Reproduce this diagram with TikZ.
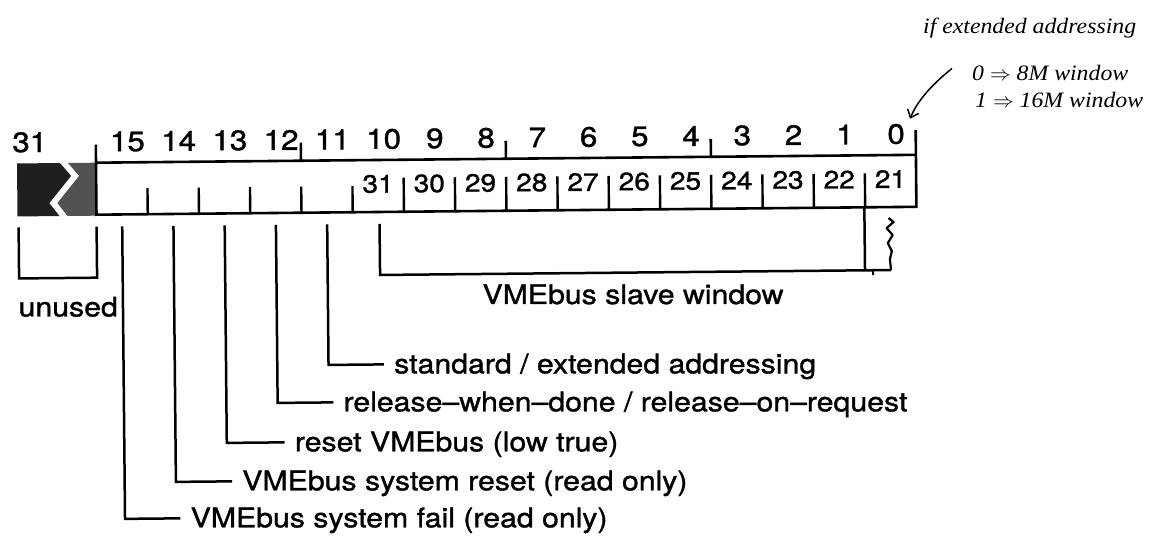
\documentclass[tikz,border=0pt]{standalone}
\usepackage{fontspec}
\setmainfont{TeX Gyre Heros}[FakeStretch=1.12,FakeBold=1.2]
\newfontfamily\handfont{Liberation Serif}[FakeStretch=1.08]
\usetikzlibrary{arrows.meta}
\begin{document}
\begin{tikzpicture}[x=1pt,y=-1pt,
  reg/.style={line width=2.6pt},
  ln/.style={line width=2.5pt},
  tick/.style={line width=2.4pt},
  big/.style={font=\fontsize{28}{30}\selectfont, inner sep=0pt},
  small/.style={font=\fontsize{25}{28}\selectfont, inner sep=0pt},
  lbl/.style={font=\fontsize{27}{30}\selectfont, inner sep=0pt, anchor=base west},
  hand/.style={font=\handfont\itshape\fontsize{22}{24}\selectfont, inner sep=0pt, anchor=base west}]
\useasboundingbox (0,0) rectangle (1171,536);
\fill[white] (0,0) rectangle (1171,536);
\begin{scope}[rotate around={0.55:(585,268)}]
  % dark unused blocks
  \fill[black!88] (18,158) -- (61,158) -- (72,171) -- (50,198) -- (60,211) -- (18,211) -- cycle;
  \fill[black!68] (69,158) -- (97,158) -- (97,211) -- (68,211) -- (58,198) -- (80,171) -- cycle;
  % register box
  \draw[reg] (97,140) -- (97,210) -- (917,210) -- (917,133);
  \draw[reg] (97,158) -- (917,158);
  \foreach \x in {302,507,712} \draw[reg] (\x,140) -- (\x,158);
  % inner ticks
  \foreach \i in {1,...,5} \draw[tick] ({97+\i*51.25},184) -- ({97+\i*51.25},210);
  \foreach \i in {6,...,15} \draw[tick] ({97+\i*51.25},176) -- ({97+\i*51.25},210);
  % top bit numbers
  \node[big] (t31) at (31,137) {31};
  \foreach \b in {15,...,0} \node[big] (t\b) at ({97+(15.5-\b)*51.25+6},137) {\b};
  % inner numbers 31..21
  \foreach \b in {10,...,0} {
    \pgfmathtruncatemacro{\v}{21+\b}
    \node[small] (n\b) at ({97+(15.5-\b)*51.25},182) {\v};
  }
  % unused bracket
  \coordinate (u1) at (19,222);
  \coordinate (u2) at (97,222);
  \draw[ln] (u1) -- (19,273) -- (97,273) -- (u2);
  \node[lbl] (unused) at (18,311) {unused};
  % bit line tops
  \foreach \b in {15,...,11} \coordinate (b\b) at ({97+(15.5-\b)*51.25},222);
  % labels
  \node[lbl] (l11) at (393,371.5) {standard / extended addressing};
  \node[lbl] (l12) at (342,409) {release--when--done / release--on--request};
  \node[lbl] (l13) at (293,448.5) {reset VMEbus (low true)};
  \node[lbl] (l14) at (240,487) {VMEbus system reset (read only)};
  \node[lbl] (l15) at (188,523.5) {VMEbus system fail (read only)};
  \foreach \b in {11,...,15} \draw[ln] (b\b) |- ([xshift=-10pt,yshift=9pt]l\b.base west);
  % slave window bracket
  \coordinate (s1) at (380,222);
  \coordinate (s2) at (865,210);
  \draw[ln] (s1) -- (380,273) -- (891,273);
  \draw[ln] (s2) -- (865,273);
  \draw[line width=2.2pt, line join=round] (889,221) -- (894,225) -- (887,231) -- (893,238) -- (888,246) -- (892,254) -- (890,262) -- (891,273);
  \draw[line width=2pt] (873,273) -- (873,278);
  \node[lbl] (slave) at (482,303) {VMEbus slave window};
\end{scope}
% handwritten note
\node[hand] (h1) at (923,33) {if extended addressing};
\node[hand] (h2) at (972,80) {0 $\Rightarrow$ 8M window};
\node[hand] (h3) at (975,107) {1 $\Rightarrow$ 16M window};
\coordinate (as) at ([xshift=-20pt,yshift=4pt]h2.west);
\draw[line width=1.5pt, -{Straight Barb[length=7pt,width=12pt]}] (as) .. controls (930,86) and (917,102) .. ([xshift=5pt,yshift=5pt]t0.north east);
\end{tikzpicture}
\end{document}
